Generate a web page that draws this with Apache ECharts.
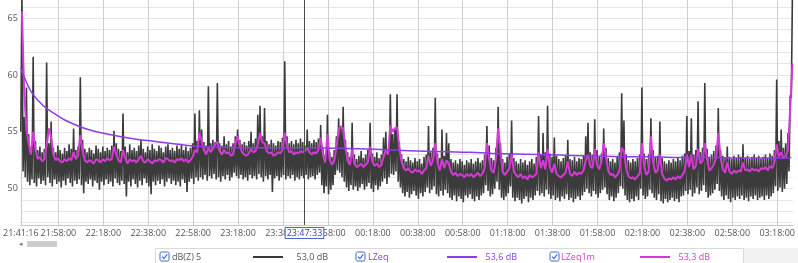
<!DOCTYPE html>
<html><head><meta charset="utf-8">
<script src="https://cdn.jsdelivr.net/npm/echarts@6/dist/echarts.min.js"></script>
<style>html,body{margin:0;padding:0;background:#fff}#c{width:798px;height:263px}</style>
</head><body><div id="c"></div>
<script>
// ---- data ----
const startTime = '21:41:16';
const endMinute = 343.7;
const cursorTime = '23:47:33';
const xTickLabels = ['21:41:16','21:58:00','22:18:00','22:38:00','22:58:00','23:18:00','23:38:00','23:58:00','00:18:00','00:38:00','00:58:00','01:18:00','01:38:00','01:58:00','02:18:00','02:38:00','02:58:00','03:18:00'];
const yTickValues = [47,48,49,50,51,52,53,54,55,56,57,58,59,60,61,62,63,64,65,66];
const yLabelValues = [50,55,60,65];
const legendValues = ['53,0 dB','53,6 dB','53,3 dB'];
const seriesNames = ['dB(Z) 5','LZeq','LZeq1m'];

// dB(Z) 5: per-minute band top (incl. peaks) and band bottom
const dbzHigh = [
67.0,56.3,58.9,54.8,53.6,61.6,54.2,53.4,53.7,53.2,
53.5,61.1,54.0,55.9,53.6,53.2,53.8,53.4,53.1,53.6,
53.3,53.9,53.5,55.3,53.4,53.7,59.8,54.3,53.5,53.2,
53.6,53.4,53.1,53.8,53.5,53.2,53.7,53.3,53.6,53.4,
53.8,55.1,54.0,53.5,53.3,56.6,53.7,53.2,53.9,53.4,
53.6,53.3,53.8,54.3,53.5,53.2,53.7,53.4,53.9,53.5,
53.3,53.8,53.6,53.2,53.7,53.9,53.4,53.6,53.3,53.8,
53.5,53.9,53.4,53.7,53.3,53.6,54.0,56.6,54.2,56.9,
55.2,54.1,53.8,59.0,54.0,54.3,54.1,59.3,54.0,53.8,
54.6,53.9,54.2,53.7,54.0,54.6,55.2,54.3,53.9,54.1,
53.8,54.2,55.0,54.0,54.4,56.5,57.3,54.6,57.1,54.2,
53.9,54.3,54.0,53.8,54.2,54.1,54.5,61.2,54.6,54.0,
54.2,53.9,54.3,54.0,54.4,54.1,53.8,55.2,54.2,54.0,
54.3,54.1,54.4,55.6,53.5,53.0,56.5,53.2,52.8,53.4,
54.6,56.2,55.4,57.2,54.3,53.2,52.8,55.8,53.0,52.6,
52.9,53.3,52.7,53.0,53.4,55.8,53.1,52.8,53.2,52.7,
53.0,54.5,55.0,53.4,58.3,54.8,55.3,58.3,54.1,53.0,
52.6,52.4,52.8,52.5,52.3,52.7,52.4,52.6,52.2,52.8,
53.0,55.5,53.2,53.6,58.0,53.1,52.7,55.2,52.9,54.9,
54.0,52.6,52.3,52.5,52.2,52.6,52.4,52.1,52.5,52.3,
52.6,52.2,52.4,52.7,52.3,52.5,53.0,55.5,53.8,52.7,
52.5,53.6,57.2,54.0,52.6,52.3,52.8,53.1,56.0,52.7,
52.4,52.2,52.6,52.3,52.5,52.1,52.4,52.6,52.2,52.8,
56.4,53.0,54.9,53.2,57.3,53.1,52.8,54.5,52.9,52.6,
52.4,52.7,52.9,54.3,52.6,52.5,52.8,52.4,52.7,52.6,
52.9,54.6,55.8,53.2,53.0,56.1,53.4,52.8,53.1,55.3,
53.6,52.7,52.4,52.6,52.3,52.8,53.2,58.4,56.0,53.0,
52.5,52.3,52.6,52.4,52.7,53.0,58.9,53.1,52.6,53.0,
56.2,53.4,52.8,52.9,55.9,52.7,52.4,52.2,52.5,52.3,
52.6,52.4,52.7,52.5,52.9,53.1,56.4,53.3,56.2,53.0,
53.4,57.7,53.2,53.6,59.3,53.5,52.8,53.0,53.3,53.8,
57.1,53.4,52.9,52.7,53.7,52.8,52.6,52.9,52.7,53.0,
52.8,53.9,52.7,52.9,52.6,52.8,53.0,52.7,52.9,52.6,
52.8,53.0,52.7,53.1,52.9,53.4,59.6,54.2,55.2,53.6,
54.0,54.9,58.2,67.0];
const dbzLow = [
55.0,51.5,51.0,50.6,50.3,50.8,50.5,50.2,50.9,50.4,
50.7,50.3,51.0,50.5,50.2,50.8,50.4,50.6,50.1,50.7,
50.3,50.9,50.5,50.2,50.7,50.4,50.8,50.3,49.6,50.6,
50.4,50.8,50.2,50.7,50.5,49.9,50.6,50.3,50.8,50.4,
50.6,50.2,50.9,50.5,50.3,50.7,50.4,49.3,50.6,50.2,
50.8,50.4,50.1,50.7,50.3,50.9,50.5,50.2,49.5,50.6,
50.3,50.7,50.4,50.8,50.2,50.6,50.9,50.4,50.7,50.3,
50.6,50.2,50.8,50.5,49.7,50.6,50.9,50.4,51.0,50.7,
51.0,50.8,51.2,50.7,51.1,50.9,51.3,50.8,51.0,50.6,
51.1,50.8,51.2,50.7,51.0,51.4,51.1,50.9,51.2,50.8,
51.0,50.7,51.2,50.9,51.1,50.8,51.3,51.0,50.6,51.1,
50.8,51.2,49.7,50.9,51.1,50.7,51.0,51.2,50.8,51.1,
50.9,51.2,50.7,51.0,50.8,51.1,50.9,51.2,50.8,51.0,
51.1,50.8,51.2,51.4,50.3,49.6,50.2,49.5,49.9,50.3,
51.2,51.6,51.4,51.0,50.6,50.1,49.8,50.3,49.9,50.2,
49.8,50.1,50.4,49.9,50.2,50.5,50.0,49.7,50.3,49.9,
50.2,50.6,50.9,50.4,51.0,51.3,51.2,51.5,50.6,50.1,
49.6,49.3,49.7,49.2,49.5,49.8,49.4,49.1,49.6,49.3,
49.7,50.1,49.6,49.9,50.2,49.5,49.3,49.8,49.4,49.9,
49.6,49.2,49.0,49.4,48.9,49.3,49.1,48.8,49.4,49.2,
49.5,49.1,48.9,49.3,49.0,49.4,49.6,50.3,49.8,49.3,
49.5,50.0,50.6,49.9,49.2,49.0,49.3,49.6,50.2,49.2,
48.9,49.2,49.0,48.7,49.1,49.3,48.8,49.2,49.0,49.4,
49.8,49.4,49.6,49.3,49.9,49.5,49.1,49.4,49.0,49.2,
48.9,49.3,49.1,49.5,49.0,49.2,48.8,49.1,49.3,49.0,
49.4,49.7,50.0,49.6,49.3,49.8,49.5,49.2,49.6,49.9,
50.1,49.5,49.0,49.3,48.9,49.2,49.6,50.2,50.0,49.4,
49.0,48.8,49.1,48.9,49.3,49.0,50.0,49.4,49.1,49.3,
49.9,49.6,49.2,49.0,49.5,48.9,48.7,49.1,48.8,49.0,
49.2,48.9,49.1,48.8,49.3,49.4,49.8,49.5,49.9,49.3,
49.6,50.1,49.5,49.8,50.3,49.7,49.2,49.4,49.6,49.9,
50.4,49.8,49.3,49.0,49.4,49.1,48.8,49.2,49.0,49.3,
49.1,49.4,49.0,49.2,48.9,49.3,49.1,49.4,49.0,49.2,
49.3,49.0,49.4,49.1,49.3,49.6,50.2,49.8,50.1,49.7,
50.0,50.4,51.5,58.0];
// LZeq1m: one value per minute
const lzeq1m = [
65.6,58.5,55.2,54.0,53.0,55.0,53.5,52.6,52.8,52.4,
52.6,53.8,55.3,54.5,53.0,52.5,52.7,52.4,52.3,52.6,
52.4,52.7,52.5,53.2,52.6,52.9,54.7,53.3,52.5,52.3,
52.5,52.4,52.2,52.6,52.5,52.3,52.6,52.4,52.7,52.5,
52.6,53.7,53.0,52.5,52.3,53.4,52.7,52.2,52.6,52.4,
52.5,52.3,52.6,52.9,52.4,52.3,52.6,52.4,52.2,52.5,
52.4,52.6,52.5,52.3,52.7,52.6,52.4,52.5,52.3,52.6,
52.5,52.7,52.4,52.6,52.3,52.5,52.8,53.4,53.2,54.9,
54.2,53.4,53.0,53.6,53.2,53.5,53.9,54.1,53.3,53.0,
53.4,53.1,53.2,52.9,53.0,54.0,54.6,53.8,53.2,53.0,
52.9,53.1,53.5,53.2,53.3,53.9,54.9,54.1,54.0,53.3,
53.1,53.2,52.9,53.0,53.2,53.1,53.4,54.9,53.8,53.2,
53.3,53.0,53.2,53.1,53.3,53.2,53.3,53.6,53.2,53.0,
53.2,53.1,53.4,54.5,53.0,52.3,54.8,52.6,52.1,52.4,
53.6,55.2,55.5,55.3,53.6,52.5,52.1,53.4,52.2,51.9,
52.0,52.2,51.9,52.1,52.3,53.7,52.4,52.0,52.2,51.9,
52.1,52.8,53.4,53.0,55.6,55.0,55.3,55.4,53.6,52.4,
51.8,51.6,51.8,51.5,51.4,51.7,51.5,51.6,51.3,51.6,
51.8,52.9,52.0,52.5,54.0,52.3,51.6,52.6,51.8,52.5,
52.2,51.5,51.2,51.4,51.1,51.3,51.2,51.0,51.3,51.1,
51.3,51.0,51.2,51.4,51.1,51.3,51.8,54.0,52.6,51.6,
51.4,52.6,55.3,53.4,51.5,51.2,51.5,51.8,53.0,51.5,
51.2,51.0,51.3,50.9,51.1,50.8,51.2,51.0,51.1,51.3,
53.2,51.8,52.5,51.7,53.5,51.9,51.4,52.2,51.3,51.1,
51.0,51.2,51.4,52.4,51.3,51.1,51.5,51.2,51.4,51.3,
51.6,52.5,53.0,52.0,51.8,53.5,52.1,51.7,52.4,54.0,
52.8,51.6,51.2,51.3,51.0,51.2,51.6,53.6,53.3,51.8,
51.1,50.9,51.0,50.8,51.1,51.3,54.0,52.0,51.2,51.5,
54.6,52.3,51.4,51.6,53.0,51.3,50.9,50.7,50.9,50.8,
51.0,50.8,51.1,50.9,51.2,51.5,53.0,51.9,53.0,51.7,
52.0,53.5,52.2,52.4,54.0,52.6,51.6,51.8,52.1,52.7,
54.9,52.8,51.7,51.4,52.3,51.5,51.3,51.6,51.4,51.6,
51.5,52.3,51.6,51.7,51.5,51.8,51.6,51.7,51.5,51.8,
51.7,51.9,51.6,52.0,51.8,52.3,53.9,52.8,53.2,52.7,
52.8,53.4,57.0,61.0];
// LZeq (running Leq): minute offsets and values
const lzeqMinutes = [0,2,5,10,15,20,30,40,50,60,70,80,90,100,110,120,130,140,150,160,170,180,190,200,210,220,230,240,250,260,270,280,290,300,310,320,330,340,343];
const lzeqValues  = [60.6,59.6,58.4,57.3,56.6,56.0,55.2,54.75,54.4,54.15,53.9,53.7,53.65,53.6,53.6,53.6,53.6,53.55,53.5,53.45,53.35,53.3,53.25,53.2,53.1,53.05,53.0,52.95,52.9,52.85,52.8,52.8,52.75,52.75,52.75,52.7,52.7,52.7,52.75];

// ---- helpers ----
function toSec(str){const p=str.split(':').map(Number);let s=p[0]*3600+p[1]*60+(p[2]||0);if(p[0]<12)s+=86400;return s;}
function fmt(v){let s=Math.round(v)%86400;const h=Math.floor(s/3600),m=Math.floor(s%3600/60),sec=s%60;const z=n=>String(n).padStart(2,'0');return z(h)+':'+z(m)+':'+z(sec);}
const t0 = toSec(startTime);
const xTicks = xTickLabels.map(toSec);
const dbzData = [];
for (let i=0;i<dbzHigh.length;i++){ dbzData.push([t0+60*i, dbzLow[i]]); dbzData.push([t0+60*i+30, dbzHigh[i]]); }
const lz1Data = lzeq1m.map((v,i)=>[t0+60*i+30, v]);
const lzData = lzeqMinutes.map((m,i)=>[t0+60*m, lzeqValues[i]]);

const C_DARK='#3b3b3b', C_PURPLE='#8d3ce6', C_MAG='#d63ad6', C_TXT='#555';
const FONT='"Open Sans", "Noto Sans", sans-serif';

function checkbox(x,y){return {type:'group',x:x,y:y,children:[
 {type:'rect',shape:{x:0,y:0,width:9,height:9,r:1.5},style:{fill:'#fff',stroke:'#3c6fc8',lineWidth:1}},
 {type:'polyline',shape:{points:[[2,4.6],[3.9,6.6],[7.3,2.4]]},style:{stroke:'#3c6fc8',lineWidth:1.2,fill:null}}]};}
function txt(x,y,s,color,align){return {type:'text',x:x,y:y,style:{text:s,fill:color,font:'9px '+FONT,textAlign:align||'left',textVerticalAlign:'middle'}};}
function seg(x1,x2,y,color){return {type:'line',shape:{x1:x1,y1:y,x2:x2,y2:y},style:{stroke:color,lineWidth:2}};}

const chart = echarts.init(document.getElementById('c'), null, {renderer:'canvas'});
chart.setOption({
  animation:false,
  backgroundColor:'#fff',
  axisPointer:{triggerOn:'none'},
  grid:{left:20,right:2,top:0,bottom:38,containLabel:false},
  xAxis:{type:'value',min:t0,max:t0+endMinute*60,
    axisLine:{show:true,lineStyle:{color:'#c8c8c8'}},
    axisTick:{show:false,customValues:xTicks},
    axisLabel:{customValues:xTicks,formatter:fmt,fontSize:9,color:C_TXT,margin:4,fontFamily:FONT},
    splitLine:{show:true,lineStyle:{color:'#cfcfcf',width:1}},
    axisPointer:{show:true,type:'line',value:toSec(cursorTime),status:'show',snap:false,triggerTooltip:false,
      lineStyle:{color:'#4a4a4a',width:1,type:'solid'},
      label:{show:true,formatter:p=>fmt(p.value),backgroundColor:'#fff',borderColor:'#4a63d6',borderWidth:1,borderRadius:0,color:'#2b3fb0',padding:[1,1,0,1],fontSize:9,fontFamily:FONT,margin:3}}
  },
  yAxis:{type:'value',min:46.8,max:66.6,
    axisLine:{show:true,lineStyle:{color:'#c8c8c8'}},
    axisTick:{show:false,customValues:yTickValues},
    axisLabel:{customValues:yLabelValues,fontSize:9,color:C_TXT,margin:3,fontFamily:FONT},
    splitLine:{show:true,lineStyle:{color:'#e6e6e6',width:1}}
  },
  series:[
    {name:seriesNames[0],type:'line',data:dbzData,showSymbol:false,silent:true,lineStyle:{color:C_DARK,width:1.6},z:2},
    {name:seriesNames[2],type:'line',data:lz1Data,showSymbol:false,silent:true,lineStyle:{color:C_MAG,width:2},z:3},
    {name:seriesNames[1],type:'line',data:lzData,showSymbol:false,silent:true,smooth:0.4,lineStyle:{color:C_PURPLE,width:1.5},z:4}
  ],
  graphic:[
    {type:'text',x:19,y:244,style:{text:'◂',fill:'#777',font:'7px '+FONT,textVerticalAlign:'middle'}},
    {type:'rect',shape:{x:27,y:241,width:30,height:6},style:{fill:'#cdcdcd'}},
    {type:'rect',shape:{x:744,y:248,width:60,height:20},style:{fill:'#f2f2f2'}},
    {type:'rect',shape:{x:155.5,y:248.5,width:588,height:20},style:{fill:'#fff',stroke:'#d9d9d9',lineWidth:1}},
    checkbox(160,252), txt(172,257,seriesNames[0],C_TXT), seg(253,283,257,C_DARK), txt(328,257,legendValues[0],C_TXT,'right'),
    checkbox(356,252), txt(368,257,seriesNames[1],C_PURPLE), seg(447,477,257,C_PURPLE), txt(517,257,legendValues[1],C_PURPLE,'right'),
    checkbox(550,252), txt(561,257,seriesNames[2],C_MAG), seg(640,670,257,C_MAG), txt(710,257,legendValues[2],C_MAG,'right')
  ]
});
</script></body></html>
